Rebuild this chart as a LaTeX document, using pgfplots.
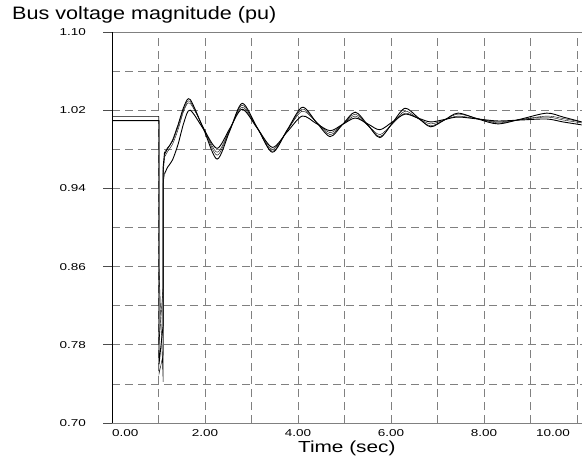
\documentclass[border=0pt]{standalone}
\usepackage{fontspec}
\setmainfont{Liberation Sans}
\usepackage{pgfplots}
\pgfplotsset{compat=1.18}
\newcommand{\sx}[1]{\scalebox{1.35}[1]{#1}}
\begin{document}
\begin{tikzpicture}
\useasboundingbox (0,0) rectangle (588pt,464pt);
\begin{axis}[
    at={(112pt,41pt)}, anchor=south west,
    scale only axis, width=469.65pt, height=391pt,
    xmin=0, xmax=10.1, ymin=0.70, ymax=1.10,
    axis x line=box, axis y line=left,
    separate axis lines,
    x axis line style={gray, line width=0.8pt, -},
    y axis line style={black, line width=0.8pt, -},
    xtick={0,2,4,6,8,10},
    xticklabels={{\rlap{\sx{0.00}}},\sx{2.00},\sx{4.00},\sx{6.00},\sx{8.00},{\llap{\sx{10.00}\hspace{7pt}}}},
    minor xtick={1,3,5,7,9},
    ytick={0.70,0.78,0.86,0.94,1.02,1.10},
    yticklabels={\sx{0.70},\sx{0.78},\sx{0.86},\sx{0.94},\sx{1.02},\sx{1.10}},
    minor ytick={0.74,0.82,0.90,0.98,1.06},
    grid=both,
    major grid style={gray, dash pattern=on 8pt off 5pt, line width=0.8pt},
    minor grid style={gray, dash pattern=on 8pt off 5pt, line width=0.8pt},
    major tick length=9pt, minor tick length=0pt,
    xtick align=inside, ytick align=outside,
    xtick style={draw=none},
    ytick style={black!70, line width=0.8pt},
    ticklabel style={font=\fontsize{10}{12}\selectfont, inner sep=0pt},
    yticklabel shift=17pt,
    xticklabel shift=6pt,
    title={\scalebox{1.2}[1]{Bus voltage magnitude (pu)}},
    title style={at={(axis description cs:0,1)}, anchor=base west, inner sep=0pt,
        xshift=-100pt, yshift=7pt, font=\fontsize{18}{20}\selectfont},
    xlabel={\scalebox{1.3}[1]{Time (sec)}},
    xlabel style={at={(axis description cs:0.5,0)}, anchor=base, inner sep=0pt,
        yshift=-29pt, font=\fontsize{16}{18}\selectfont},
    cycle list={{black, line width=0.9pt, mark=none}},
]
% pre-fault, fault and clearing
\addplot coordinates {(0,1.0134) (1.01,1.0134) (1.01,0.86) (1.1,0.742) (1.1,0.958) (1.13,0.975)};
\addplot coordinates {(0,1.0095) (1.01,1.0095) (1.01,0.76) (1.1,0.80) (1.1,0.962) (1.13,0.977)};
\addplot coordinates {(0,1.0092) (1.01,1.0092) (1.01,0.78) (1.1,0.84) (1.1,0.955) (1.13,0.972)};
\addplot coordinates {(0,1.0090) (1.01,1.0090) (1.01,0.75) (1.1,0.77) (1.1,0.945) (1.13,0.955)};
% post-fault swings
\addplot+[smooth, tension=0.5] coordinates {
(1.13,0.975) (1.2,0.981) (1.3,0.989) (1.42,1.005) (1.55,1.024) (1.68,1.031)
(1.97,1.0005) (2.26,0.970) (2.53,0.9985) (2.8,1.027) (3.125,1.002) (3.45,0.977)
(3.77,1.000) (4.09,1.023) (4.39,1.008) (4.69,0.993) (4.96,1.0055) (5.23,1.018)
(5.5,1.005) (5.76,0.992) (6.03,1.007) (6.3,1.022) (6.58,1.0125) (6.85,1.003)
(7.15,1.010) (7.44,1.017) (7.87,1.011) (8.3,1.006) (8.8,1.011) (9.35,1.017)
(9.7,1.013) (10.1,1.008)};
\addplot+[smooth, tension=0.5] coordinates {
(1.13,0.977) (1.2,0.982) (1.3,0.988) (1.42,1.003) (1.55,1.022) (1.68,1.029)
(1.97,1.0015) (2.26,0.974) (2.53,0.9995) (2.8,1.025) (3.125,1.0015) (3.45,0.978)
(3.77,0.9995) (4.09,1.021) (4.39,1.008) (4.69,0.995) (4.96,1.0055) (5.23,1.016)
(5.5,1.0045) (5.76,0.993) (6.03,1.006) (6.3,1.019) (6.58,1.0115) (6.85,1.004)
(7.15,1.010) (7.44,1.016) (7.87,1.0115) (8.3,1.007) (8.8,1.0105) (9.35,1.014)
(9.7,1.0115) (10.1,1.008)};
\addplot+[smooth, tension=0.5] coordinates {
(1.13,0.972) (1.2,0.978) (1.3,0.985) (1.42,1.000) (1.55,1.020) (1.68,1.027)
(1.97,1.002) (2.26,0.977) (2.53,1.000) (2.8,1.023) (3.125,1.0015) (3.45,0.980)
(3.77,0.9995) (4.09,1.019) (4.39,1.008) (4.69,0.997) (4.96,1.0055) (5.23,1.014)
(5.5,1.0045) (5.76,0.995) (6.03,1.006) (6.3,1.017) (6.58,1.0115) (6.85,1.006)
(7.15,1.010) (7.44,1.014) (7.87,1.011) (8.3,1.008) (8.8,1.0105) (9.35,1.013)
(9.7,1.010) (10.1,1.007)};
\addplot+[smooth, tension=0.5] coordinates {
(1.13,0.955) (1.2,0.962) (1.3,0.969) (1.42,0.985) (1.55,1.008) (1.68,1.020)
(1.97,1.0005) (2.26,0.981) (2.53,1.001) (2.8,1.021) (3.125,1.0015) (3.45,0.982)
(3.77,0.998) (4.09,1.014) (4.39,1.0065) (4.69,0.999) (4.96,1.0055) (5.23,1.012)
(5.5,1.006) (5.76,1.000) (6.03,1.008) (6.3,1.016) (6.58,1.012) (6.85,1.008)
(7.15,1.0105) (7.44,1.013) (7.87,1.011) (8.3,1.009) (8.8,1.010) (9.35,1.011)
(9.7,1.008) (10.1,1.005)};
\end{axis}
\end{tikzpicture}
\end{document}
